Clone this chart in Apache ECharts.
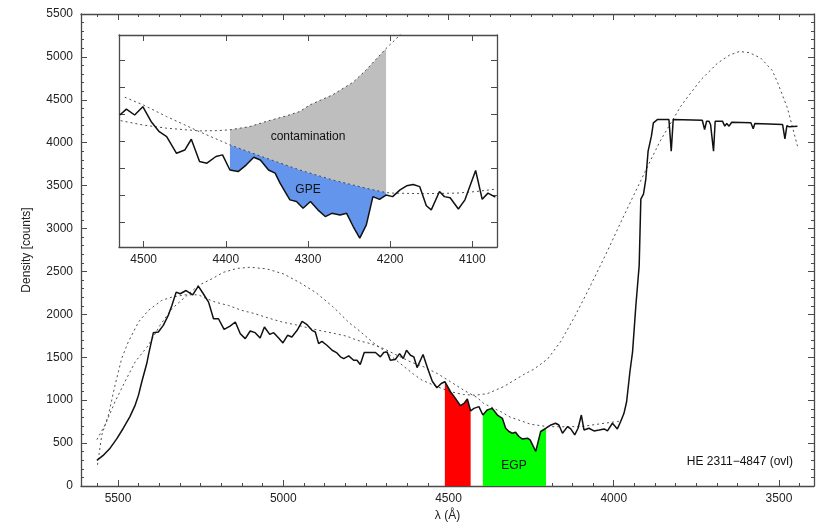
<!DOCTYPE html>
<html>
<head>
<meta charset="utf-8">
<script src="https://cdn.jsdelivr.net/npm/echarts@6/dist/echarts.min.js"></script>
<style>
  html, body { margin: 0; padding: 0; background: #fff; }
  #chart { width: 830px; height: 527px; }
</style>
</head>
<body>
<div id="chart"></div>
<script>
// main spectrum: [wavelength (Å), counts]
const spectrum = [
  [5564,298],[5545,356],[5524,441],[5504,549],[5484,673],[5464,809],[5448,943],[5438,1059],
  [5428,1215],[5413,1427],[5408,1524],[5393,1787],[5378,1795],[5363,1872],[5348,1988],[5337,2104],
  [5324,2259],[5312,2240],[5294,2278],[5274,2228],[5257,2329],[5242,2240],[5226,2143],[5211,1949],
  [5196,1949],[5179,1825],[5161,1864],[5145,1911],[5130,1775],[5115,1717],[5100,1806],[5085,1787],
  [5070,1725],[5057,1853],[5041,1767],[5029,1787],[5014,1725],[5001,1667],[4987,1756],[4974,1737],
  [4958,1814],[4943,1918],[4928,1880],[4913,1814],[4903,1795],[4893,1659],[4883,1686],[4868,1640],
  [4852,1582],[4839,1555],[4827,1505],[4817,1485],[4802,1517],[4787,1466],[4777,1466],[4767,1416],
  [4755,1555],[4736,1555],[4721,1555],[4706,1505],[4696,1555],[4686,1563],[4676,1466],[4661,1474],
  [4648,1543],[4637,1485],[4627,1582],[4615,1524],[4605,1505],[4595,1380],[4577,1532],[4563,1369],
  [4549,1220],[4535,1145],[4522,1195],[4511,1215],[4494,1099],[4479,1021],[4464,936],[4453,963],
  [4443,1013],[4433,874],[4423,905],[4408,925],[4396,827],[4383,885],[4368,905],[4352,827],
  [4337,789],[4327,673],[4317,635],[4307,615],[4297,627],[4287,577],[4277,549],[4261,557],
  [4253,537],[4236,403],[4221,635],[4216,653],[4205,673],[4190,711],[4176,731],[4166,711],
  [4155,615],[4140,692],[4130,665],[4118,595],[4108,673],[4098,827],[4090,653],[4075,673],
  [4060,642],[4044,653],[4029,665],[4019,642],[4004,731],[3989,665],[3979,751],[3969,847],
  [3961,982],[3951,1331],[3943,1563],[3933,2104],[3923,2568],[3918,3342],[3910,3400],[3903,3574],
  [3896,3902],[3886,4076],[3880,4232],[3875,4224],[3868,4270],[3833,4270],[3826,3902],[3820,4270],
  [3732,4262],[3725,4154],[3719,4251],[3712,4251],[3707,4212],[3698,3902],[3693,4251],[3671,4251],
  [3664,4193],[3658,4224],[3651,4193],[3643,4239],[3585,4232],[3578,4162],[3573,4224],[3489,4212],
  [3482,4046],[3476,4200],[3469,4185],[3464,4200],[3444,4193]
];

// broad two-peak model curve
const modelA = [
  [5564,540],[5539,711],[5509,982],[5479,1215],[5448,1447],[5408,1640],[5373,1872],[5337,2066],
  [5297,2201],[5257,2336],[5216,2414],[5181,2490],[5140,2535],[5100,2549],[5050,2530],[4999,2471],
  [4950,2370],[4900,2250],[4850,2090],[4800,1900],[4770,1810],[4731,1680],[4690,1563],[4650,1440],
  [4605,1300],[4580,1233],[4534,1157],[4494,1099],[4454,1065],[4420,1058],[4383,1075],[4332,1160],
  [4272,1300],[4242,1360],[4200,1480],[4161,1680],[4120,1960],[4080,2260],[4039,2580],[4009,2820],
  [3979,3071],[3948,3320],[3918,3560],[3888,3800],[3858,4030],[3827,4232],[3797,4425],[3777,4530],
  [3736,4734],[3686,4927],[3650,5020],[3620,5063],[3590,5050],[3555,4986],[3520,4840],[3504,4700],
  [3474,4400],[3444,3960]
];

// continuum curve
const modelB = [
  [5562,247],[5549,595],[5529,827],[5509,1175],[5489,1485],[5469,1679],[5438,1911],[5408,2046],
  [5368,2162],[5337,2201],[5297,2228],[5257,2228],[5236,2190],[5206,2143],[5166,2104],[5125,2046],
  [5085,2007],[5045,1957],[5004,1911],[4964,1880],[4923,1841],[4883,1807],[4842,1775],[4807,1745],
  [4777,1698],[4736,1659],[4696,1601],[4656,1524],[4615,1447],[4575,1389],[4534,1311],[4494,1215],
  [4454,1117],[4413,1030],[4393,960],[4363,905],[4342,867],[4312,800],[4292,775],[4252,720],
  [4201,692],[4161,690],[4100,692],[4029,731],[3989,751],[3975,758]
];

// inset (zoom on 4530-4070 Å)
const insetSpectrum = [
  [4529,898],[4521,920],[4511,898],[4501,929],[4491,874],[4481,836],[4472,818],[4460,756],
  [4450,768],[4442,808],[4432,725],[4423,719],[4412,744],[4404,750],[4395,694],[4385,688],
  [4375,713],[4366,741],[4358,731],[4348,694],[4340,682],[4334,645],[4328,614],[4322,583],
  [4314,577],[4306,552],[4297,577],[4288,546],[4279,521],[4271,533],[4261,527],[4253,533],
  [4245,484],[4237,441],[4229,490],[4221,595],[4213,585],[4205,601],[4197,595],[4188,620],
  [4180,635],[4172,640],[4164,632],[4156,561],[4150,546],[4140,614],[4134,595],[4127,591],
  [4117,549],[4109,583],[4096,692],[4088,585],[4081,608],[4072,593]
];
const insetModelA = [
  [4528,877],[4501,861],[4472,849],[4432,839],[4410,840],[4395,843],[4371,855],[4351,874],
  [4326,895],[4310,911],[4298,935],[4270,973],[4245,1020],[4229,1066],[4205,1145],[4190,1189],
  [4184,1210]
];
const insetModelB = [
  [4523,964],[4501,936],[4472,892],[4432,836],[4395,787],[4351,738],[4310,694],[4270,657],
  [4229,626],[4205,610],[4197,608],[4160,606],[4119,608],[4095,614],[4071,623]
];

// shaded wavelength windows
const redWindow = [4433, 4511];
const egpWindow = [4205, 4396];
const gpeWindow = [4205, 4395];

// tick values
const mainXLabels = [5500, 5000, 4500, 4000, 3500];
const mainXMinor = [];
for (let v = 3437.5; v <= 5562.5; v += 62.5) mainXMinor.push(v);
const insetXLabels = [4500, 4400, 4300, 4200, 4100];
const insetYTicks = [500, 600, 700, 800, 900, 1000, 1100];

const FONT = 'Liberation Sans, Arial, Helvetica, sans-serif';
const FRAME = { lineStyle: { color: '#4a4a4a', width: 1.3 } };
const plain = v => String(v);

const inRange = (pts, lo, hi) => pts.filter(p => p[0] >= lo && p[0] <= hi);
const underCurve = (pts, w) => {
  const s = inRange(pts, w[0], w[1]);
  return [...s, [s[s.length - 1][0], 0], [s[0][0], 0]];
};
const between = (top, bottom, w) =>
  [...inRange(top, w[0], w[1]), ...inRange(bottom, w[0], w[1]).reverse()];

const polygon = (points, color, xi, yi, anchor) => ({
  type: 'custom',
  xAxisIndex: xi,
  yAxisIndex: yi,
  z: 1,
  silent: true,
  data: [anchor],
  renderItem: (params, api) => ({
    type: 'polygon',
    shape: { points: points.map(p => api.coord(p)) },
    style: { fill: color }
  })
});

const line = (data, xi, yi, dashed) => ({
  type: 'line',
  xAxisIndex: xi,
  yAxisIndex: yi,
  data: data,
  showSymbol: false,
  silent: true,
  z: dashed ? 2 : 3,
  lineStyle: dashed
    ? { color: '#3a3a3a', width: 0.9, type: [2, 3] }
    : { color: '#111', width: 1.5 }
});

const xAxisFor = (grid, pos, min, max, ticks, len, labels, showLine) => ({
  type: 'value',
  gridIndex: grid,
  position: pos,
  inverse: true,
  min: min,
  max: max,
  splitLine: { show: false },
  axisLine: Object.assign({ show: showLine }, FRAME),
  axisTick: { show: true, inside: true, length: len, customValues: ticks, lineStyle: { color: '#4a4a4a' } },
  axisLabel: labels
    ? { show: true, customValues: labels, formatter: plain, margin: 7, fontSize: 12, color: '#222', fontFamily: FONT }
    : { show: false }
});

const option = {
  animation: false,
  backgroundColor: '#fff',
  textStyle: { fontFamily: FONT },
  grid: [
    { left: 81, right: 16, top: 14, bottom: 39 },
    { left: 119, top: 35, width: 378, height: 212 }
  ],
  xAxis: [
    Object.assign(xAxisFor(0, 'bottom', 3394, 5612, mainXLabels, 6, mainXLabels, true), {
      name: 'λ (Å)', nameLocation: 'middle', nameGap: 24,
      nameTextStyle: { fontSize: 12, color: '#222', fontFamily: FONT }
    }),
    xAxisFor(0, 'bottom', 3394, 5612, mainXMinor, 3, null, false),
    xAxisFor(0, 'top', 3394, 5612, mainXLabels, 6, null, true),
    xAxisFor(0, 'top', 3394, 5612, mainXMinor, 3, null, false),
    xAxisFor(1, 'bottom', 4070, 4530, insetXLabels, 6, insetXLabels, true),
    xAxisFor(1, 'top', 4070, 4530, insetXLabels, 6, null, true)
  ],
  yAxis: [
    {
      type: 'value', gridIndex: 0, position: 'left', min: 0, max: 5500, interval: 500,
      splitLine: { show: false },
      axisLine: Object.assign({ show: true }, FRAME),
      axisTick: { inside: true, length: 6, lineStyle: { color: '#4a4a4a' } },
      minorTick: { show: true, splitNumber: 5, length: 3, lineStyle: { color: '#4a4a4a' } },
      axisLabel: { margin: 8, fontSize: 12, color: '#222', fontFamily: FONT, formatter: plain },
      name: 'Density [counts]', nameLocation: 'middle', nameGap: 48,
      nameTextStyle: { fontSize: 12, color: '#222', fontFamily: FONT }
    },
    {
      type: 'value', gridIndex: 0, position: 'right', min: 0, max: 5500, interval: 500,
      splitLine: { show: false },
      axisLine: Object.assign({ show: true }, FRAME),
      axisTick: { inside: true, length: 6, lineStyle: { color: '#4a4a4a' } },
      minorTick: { show: true, splitNumber: 5, length: 3, lineStyle: { color: '#4a4a4a' } },
      axisLabel: { show: false }
    },
    {
      type: 'value', gridIndex: 1, position: 'left', min: 408, max: 1195,
      splitLine: { show: false },
      axisLine: Object.assign({ show: true }, FRAME),
      axisTick: { inside: true, length: 6, customValues: insetYTicks, lineStyle: { color: '#4a4a4a' } },
      axisLabel: { show: false }
    },
    {
      type: 'value', gridIndex: 1, position: 'right', min: 408, max: 1195,
      splitLine: { show: false },
      axisLine: Object.assign({ show: true }, FRAME),
      axisTick: { inside: true, length: 6, customValues: insetYTicks, lineStyle: { color: '#4a4a4a' } },
      axisLabel: { show: false }
    }
  ],
  series: [
    polygon(underCurve(spectrum, redWindow), '#ff0000', 0, 0, [4470, 500]),
    polygon(underCurve(spectrum, egpWindow), '#00ff00', 0, 0, [4300, 500]),
    line(modelA, 0, 0, true),
    line(modelB, 0, 0, true),
    line(spectrum, 0, 0, false),
    polygon(between(insetModelA, insetModelB, gpeWindow), '#bebebe', 4, 2, [4300, 800]),
    polygon(between(insetModelB, insetSpectrum, gpeWindow), '#6495ed', 4, 2, [4300, 600]),
    line(insetModelA, 4, 2, true),
    line(insetModelB, 4, 2, true),
    line(insetSpectrum, 4, 2, false)
  ],
  graphic: [
    { type: 'text', x: 308, y: 137, z: 10, style: { text: 'contamination', align: 'center', verticalAlign: 'middle', font: '12px ' + FONT, fill: '#111' } },
    { type: 'text', x: 308, y: 190, z: 10, style: { text: 'GPE', align: 'center', verticalAlign: 'middle', font: '12px ' + FONT, fill: '#111' } },
    { type: 'text', x: 514, y: 466, z: 10, style: { text: 'EGP', align: 'center', verticalAlign: 'middle', font: '12px ' + FONT, fill: '#111' } },
    { type: 'text', x: 793, y: 462, z: 10, style: { text: 'HE 2311−4847 (ovl)', align: 'right', verticalAlign: 'middle', font: '12px ' + FONT, fill: '#111' } }
  ]
};

window.addEventListener('load', () => {
  const chart = echarts.init(document.getElementById('chart'));
  chart.setOption(option);
});
</script>
</body>
</html>
